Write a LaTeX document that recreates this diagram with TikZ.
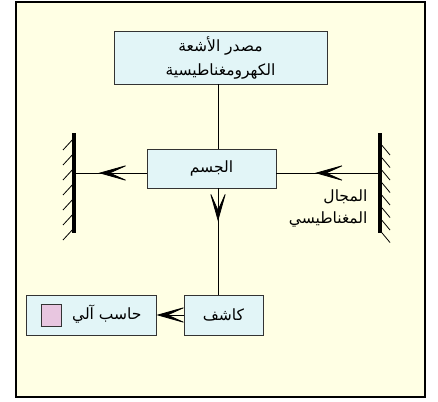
\documentclass[tikz,border=0pt]{standalone}
\usepackage{fontspec}
\newfontfamily\arabicfont[Script=Arabic]{DejaVu Sans}
\TeXXeTstate=1
\usetikzlibrary{arrows.meta,decorations.markings}

\definecolor{boxblue}{HTML}{E2F5F7}
\definecolor{paper}{HTML}{FFFFE4}
\definecolor{screen}{HTML}{E8C6E0}
\setlength{\fboxsep}{0pt}
\setlength{\fboxrule}{0.8pt}

\begin{document}
\begin{tikzpicture}[
    x=1pt, y=-1pt,
    % boxes of the set-up
    part/.style={draw=black!80, fill=boxblue, line width=0.8pt, inner sep=0pt,
        font=\arabicfont\fontsize{15.5}{24}\selectfont},
    beam/.style={line width=0.7pt},
    chevron/.tip={Stealth[length=32pt, width=18pt, inset=20pt, line width=0.8pt]},
    mid/.style={beam, postaction={decorate},
        decoration={markings, mark=at position #1 with {\arrow{chevron}}}},
    wall/.style={line width=4.5pt},
    tick/.style={line width=0.8pt}
]
    % --- Page and frame ---
    \fill[white] (0,0) rectangle (438,401);
    \draw[line width=2pt, fill=paper] (16,2) rectangle (425,397);

    % --- Define Coordinates for the beam line and the two walls ---
    \coordinate (spine) at (218,0);
    \coordinate (axis) at (0,173);

    \coordinate (LW_Top) at (74,133);
    \coordinate (LW_Bot) at (74,233);
    \coordinate (RW_Top) at (380,133);
    \coordinate (RW_Bot) at (380,233);

    % --- Boxes ---
    \node[part, minimum width=213pt, minimum height=53pt, align=center] (source) at (220.5,57.5)
        {\beginR مصدر الأشعة\endR\\\beginR الكهرومغناطيسية\endR};
    \node[part, minimum width=129pt, minimum height=39pt] (body) at (211.5,168.5)
        {\beginR الجسم\endR};
    \node[part, minimum width=79pt, minimum height=40pt] (detector) at (223.5,315)
        {\beginR كاشف\endR};
    \node[part, minimum width=130pt, minimum height=40pt] (computer) at (91,315)
        {\raisebox{-6pt}{\fcolorbox{black!80}{screen}{\rule{0pt}{21pt}\hspace{20pt}}}\hspace{10pt}\beginR حاسب آلي\endR};

    % Draw the walls with their hatching
    \draw[wall] (LW_Top) -- (LW_Bot);
    \foreach \k in {0,...,6}
        \draw[tick] (74,138+15*\k) -- ++(-11,12);

    \draw[wall] (RW_Top) -- (RW_Bot);
    \foreach \k in {0,...,7}
        \draw[tick] (380,143+12.5*\k) -- ++(10,12);

    \node[font=\arabicfont\fontsize{15.5}{22}\selectfont, align=right, anchor=east] (field) at (371,209)
        {\beginR المجال\endR\\\beginR المغناطيسي\endR};

    % --- Beam line ---
    \draw[beam] (source.south -| spine) -- (body.north -| spine);
    \draw[mid=48pt] (body.west |- axis) -- (LW_Top |- axis);
    \draw[mid=65pt] (RW_Top |- axis) -- (body.east |- axis);
    \draw[mid=33pt] (body.south -| spine) -- (detector.north -| spine);
    \draw[beam, -{chevron}] (detector.west) -- (computer.east);

\end{tikzpicture}
\end{document}
